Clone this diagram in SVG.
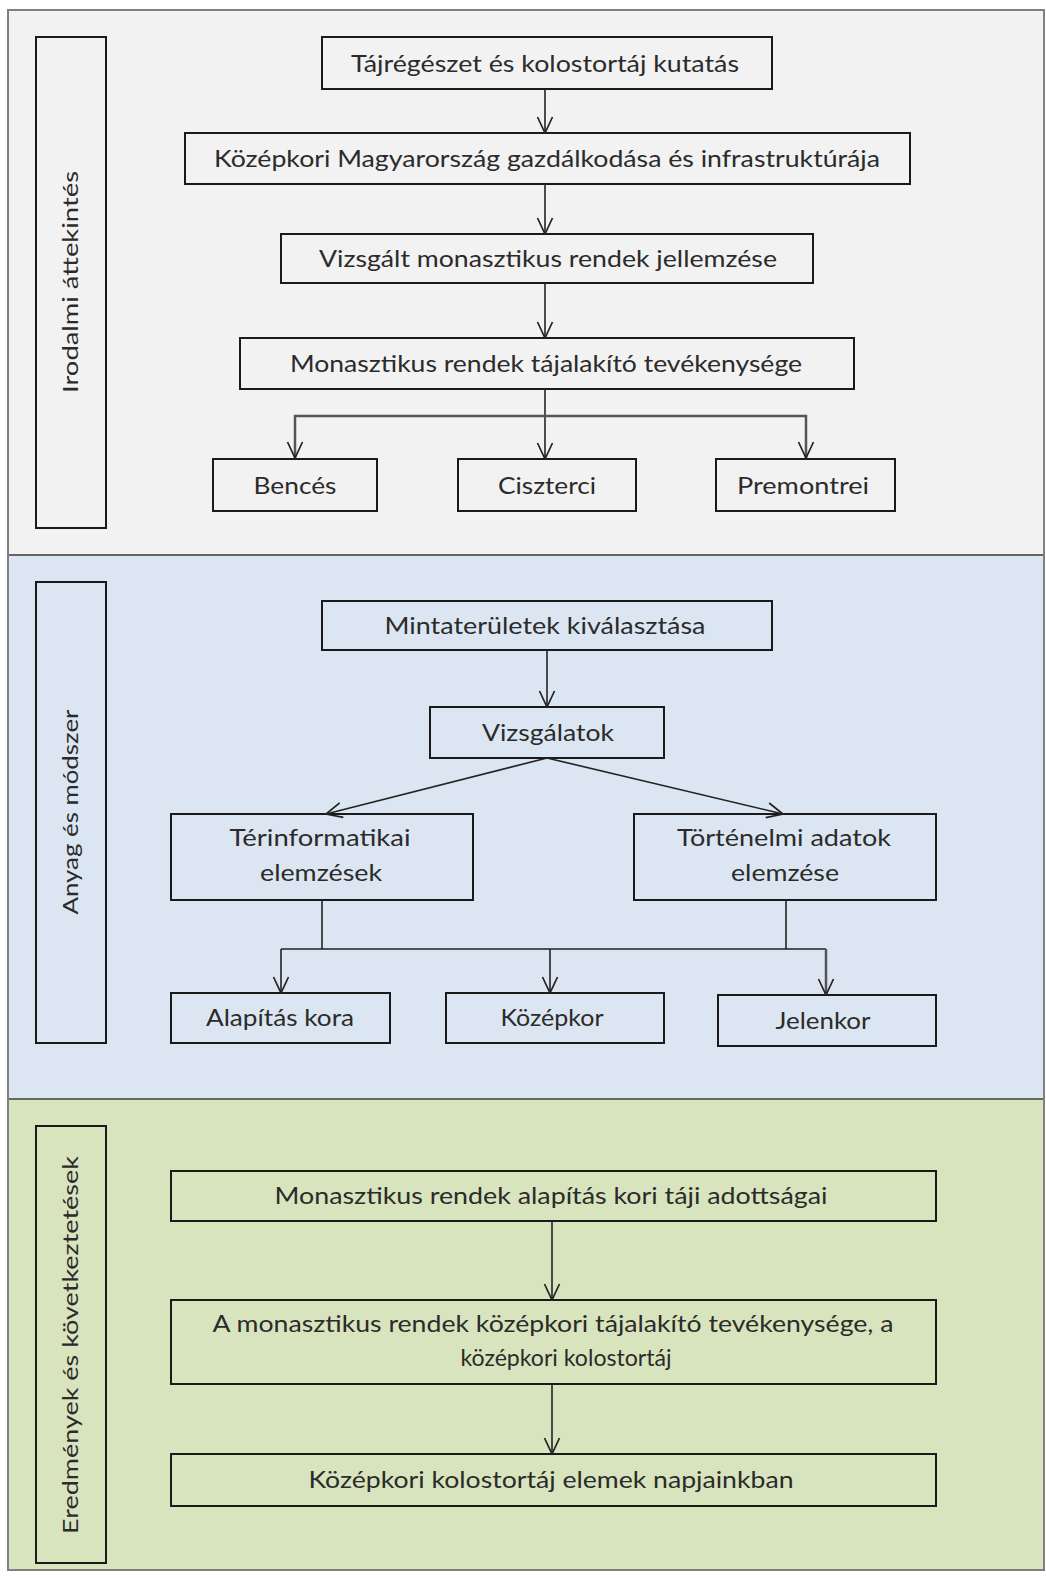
<svg xmlns="http://www.w3.org/2000/svg" width="1046" height="1580" viewBox="0 0 1046 1580">
<defs>
<style>
.box{fill:none;stroke:#1a1a1a;stroke-width:2}
.t{font-family:Lato,"Liberation Sans",sans-serif;font-size:24px;fill:#2b2b2b;text-anchor:middle}
.s{font-family:Lato,"Liberation Sans",sans-serif;font-size:22px;fill:#2b2b2b;text-anchor:middle}
.c{fill:none;stroke:#222;stroke-width:1.6}
.cg{fill:none;stroke:#555;stroke-width:2.5}
</style>
<marker id="ah" markerUnits="userSpaceOnUse" viewBox="0 0 18 18" refX="17" refY="9" markerWidth="18" markerHeight="18" orient="auto">
<path d="M1,1.5 L17,9 L1,16.5" fill="none" stroke="#222" stroke-width="1.7"/>
</marker>
</defs>
<rect width="1046" height="1580" fill="#ffffff"/>
<g id="sections">
<rect x="8" y="10" width="1036" height="545" fill="#f2f2f2"/>
<rect x="8" y="555" width="1036" height="544" fill="#dce6f2"/>
<rect x="8" y="1099" width="1036" height="471" fill="#d8e4bd"/>
<line x1="8" y1="555" x2="1044" y2="555" stroke="#666" stroke-width="2"/>
<line x1="8" y1="1099" x2="1044" y2="1099" stroke="#666" stroke-width="2"/>
<rect x="8" y="10" width="1036" height="1560" fill="none" stroke="#808080" stroke-width="2"/>
</g>
<g id="side1"><rect class="box" x="36" y="37" width="70" height="491"/><text class="s" transform="translate(78,282) rotate(-90)" textLength="222" lengthAdjust="spacingAndGlyphs">Irodalmi áttekintés</text></g>
<g id="side2"><rect class="box" x="36" y="582" width="70" height="461"/><text class="s" transform="translate(78,812) rotate(-90)" textLength="205" lengthAdjust="spacingAndGlyphs">Anyag és módszer</text></g>
<g id="side3"><rect class="box" x="36" y="1126" width="70" height="437"/><text class="s" transform="translate(78,1345) rotate(-90)" textLength="378" lengthAdjust="spacingAndGlyphs">Eredmények és következtetések</text></g>

<g id="n1"><rect class="box" x="322" y="37" width="450" height="52"/><text class="t" x="545" y="72" textLength="388" lengthAdjust="spacingAndGlyphs">Tájrégészet és kolostortáj kutatás</text></g>
<g id="n2"><rect class="box" x="185" y="133" width="725" height="51"/><text class="t" x="547" y="167" textLength="666" lengthAdjust="spacingAndGlyphs">Középkori Magyarország gazdálkodása és infrastruktúrája</text></g>
<g id="n3"><rect class="box" x="281" y="234" width="532" height="49"/><text class="t" x="548" y="267" textLength="458" lengthAdjust="spacingAndGlyphs">Vizsgált monasztikus rendek jellemzése</text></g>
<g id="n4"><rect class="box" x="240" y="338" width="614" height="51"/><text class="t" x="546" y="372" textLength="512" lengthAdjust="spacingAndGlyphs">Monasztikus rendek tájalakító tevékenysége</text></g>
<g id="n5"><rect class="box" x="213" y="459" width="164" height="52"/><text class="t" x="295" y="494" textLength="83" lengthAdjust="spacingAndGlyphs">Bencés</text></g>
<g id="n6"><rect class="box" x="458" y="459" width="178" height="52"/><text class="t" x="547" y="494" textLength="98" lengthAdjust="spacingAndGlyphs">Ciszterci</text></g>
<g id="n7"><rect class="box" x="716" y="459" width="179" height="52"/><text class="t" x="803" y="494" textLength="132" lengthAdjust="spacingAndGlyphs">Premontrei</text></g>

<g id="n8"><rect class="box" x="322" y="601" width="450" height="49"/><text class="t" x="545" y="634" textLength="321" lengthAdjust="spacingAndGlyphs">Mintaterületek kiválasztása</text></g>
<g id="n9"><rect class="box" x="430" y="707" width="234" height="51"/><text class="t" x="548" y="741" textLength="132" lengthAdjust="spacingAndGlyphs">Vizsgálatok</text></g>
<g id="n10"><rect class="box" x="171" y="814" width="302" height="86"/><text class="t" x="320" y="846" textLength="181" lengthAdjust="spacingAndGlyphs">Térinformatikai</text><text class="t" x="321" y="881" textLength="122" lengthAdjust="spacingAndGlyphs">elemzések</text></g>
<g id="n11"><rect class="box" x="634" y="814" width="302" height="86"/><text class="t" x="784" y="846" textLength="214" lengthAdjust="spacingAndGlyphs">Történelmi adatok</text><text class="t" x="785" y="881" textLength="108" lengthAdjust="spacingAndGlyphs">elemzése</text></g>
<g id="n12"><rect class="box" x="171" y="993" width="219" height="50"/><text class="t" x="280" y="1026" textLength="148" lengthAdjust="spacingAndGlyphs">Alapítás kora</text></g>
<g id="n13"><rect class="box" x="446" y="993" width="218" height="50"/><text class="t" x="552" y="1026" textLength="103" lengthAdjust="spacingAndGlyphs">Középkor</text></g>
<g id="n14"><rect class="box" x="718" y="995" width="218" height="51"/><text class="t" x="823" y="1029" textLength="95" lengthAdjust="spacingAndGlyphs">Jelenkor</text></g>

<g id="n15"><rect class="box" x="171" y="1171" width="765" height="50"/><text class="t" x="551" y="1204" textLength="553" lengthAdjust="spacingAndGlyphs">Monasztikus rendek alapítás kori táji adottságai</text></g>
<g id="n16"><rect class="box" x="171" y="1300" width="765" height="84"/><text class="t" x="553" y="1332" textLength="681" lengthAdjust="spacingAndGlyphs">A monasztikus rendek középkori  tájalakító tevékenysége, a</text><text class="t" x="566" y="1366" textLength="211" lengthAdjust="spacingAndGlyphs">középkori  kolostortáj</text></g>
<g id="n17"><rect class="box" x="171" y="1454" width="765" height="52"/><text class="t" x="551" y="1488" textLength="485" lengthAdjust="spacingAndGlyphs">Középkori kolostortáj  elemek napjainkban</text></g>

<g id="connectors">
<path class="c" d="M545,89 V133" marker-end="url(#ah)"/>
<path class="c" d="M545,184 V234" marker-end="url(#ah)"/>
<path class="c" d="M545,283 V338" marker-end="url(#ah)"/>
<path class="c" d="M545,389 V459" marker-end="url(#ah)"/>
<path class="cg" d="M545,416 H295 V458" marker-end="url(#ah)"/>
<path class="cg" d="M545,416 H806 V458" marker-end="url(#ah)"/>
<path class="c" d="M547,650 V707" marker-end="url(#ah)"/>
<path class="c" d="M547,758 L326,814" marker-end="url(#ah)"/>
<path class="c" d="M547,758 L783,814" marker-end="url(#ah)"/>
<path class="c" d="M322,900 V949"/>
<path class="c" d="M786,900 V949"/>
<path class="c" d="M281,949 H826"/>
<path class="c" d="M281,949 V993" marker-end="url(#ah)"/>
<path class="c" d="M550,949 V993" marker-end="url(#ah)"/>
<path class="cg" d="M826,949 V995" marker-end="url(#ah)"/>
<path class="c" d="M552,1221 V1300" marker-end="url(#ah)"/>
<path class="c" d="M552,1384 V1454" marker-end="url(#ah)"/>
</g>
</svg>
